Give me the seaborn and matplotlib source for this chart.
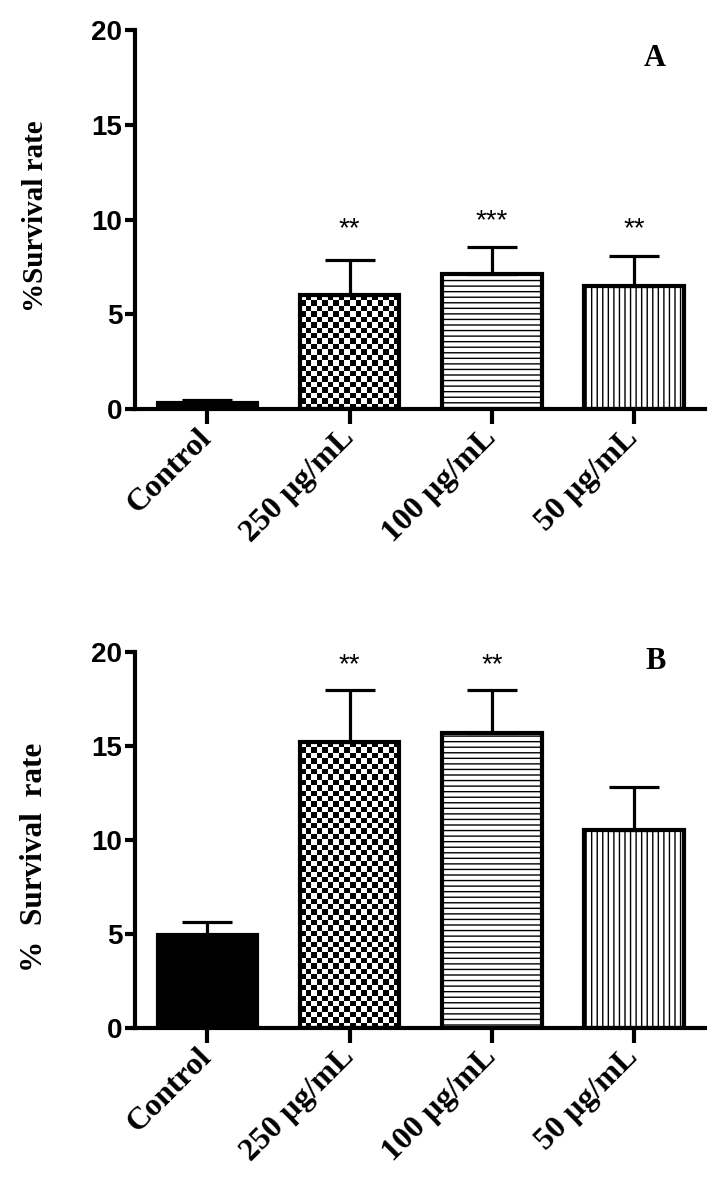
import numpy as np
import pandas as pd
import seaborn as sns
import matplotlib.pyplot as plt

groups = ["Control", "250 µg/mL", "100 µg/mL", "50 µg/mL"]

# panel A
mean_a = [0.3, 6.0, 7.1, 6.5]
err_a = [0.15, 1.85, 1.45, 1.55]
stars_a = ["", "**", "***", "**"]

# panel B
mean_b = [4.95, 15.2, 15.7, 10.55]
err_b = [0.7, 2.78, 2.28, 2.25]
stars_b = ["", "**", "**", ""]

fills = ["black", "checker", "---", "|||"]

sns.set_style("ticks", {"text.color": "black", "axes.labelcolor": "black",
                        "xtick.color": "black", "ytick.color": "black",
                        "axes.edgecolor": "black"})
serif = ["Liberation Serif", "DejaVu Serif"]
narrow = ["Liberation Sans Narrow", "Liberation Sans", "DejaVu Sans"]
plt.rcParams["hatch.linewidth"] = 1.0


def checker(ax, bar, cell=5.4):
    fig = ax.figure
    fig.canvas.draw()
    bb = bar.get_window_extent()
    nx = max(1, int(round(bb.width / cell)))
    ny = max(1, int(round(bb.height / cell)))
    ii, jj = np.indices((ny, nx))
    img = ((ii + jj) % 2).astype(float)
    x0, y0 = bar.get_x(), bar.get_y()
    im = ax.imshow(img, cmap="gray_r", extent=(x0, x0 + bar.get_width(), y0, y0 + bar.get_height()),
                   origin="lower", aspect="auto", interpolation="nearest", zorder=0.5)
    im.set_clip_path(bar)


def panel(ax, means, errs, stars, ylabel, ylab_size, ylab_pos, letter, star_y, letter_y):
    df = pd.DataFrame({"group": groups, "value": means})
    sns.barplot(data=df, x="group", y="value", order=groups, color="white",
                width=0.7, edgecolor="black", linewidth=3, ax=ax, errorbar=None)
    ax.set_xlim(-0.51, 3.5)
    ax.set_ylim(0, 20)
    for bar, f in zip(ax.patches, fills):
        if f == "black":
            bar.set_facecolor("black")
        elif f == "checker":
            bar.set_facecolor("none")
            checker(ax, bar)
        else:
            bar.set_hatch(f)
    x = np.arange(len(groups))
    ax.errorbar(x, means, yerr=[np.zeros(len(errs)), errs], fmt="none",
                ecolor="black", elinewidth=2.3, capsize=18, capthick=2.3, zorder=3)
    for xi, s in zip(x, stars):
        if s:
            ax.text(xi, star_y[xi], s, ha="center", va="center", fontsize=20,
                    family=["Liberation Sans", "DejaVu Sans"])
    ax.text(3.15, letter_y, letter, ha="center", va="center",
            fontsize=22, fontweight="bold", family=serif)

    ax.set_yticks([0, 5, 10, 15, 20])
    ax.set_xlabel("")
    ax.set_ylabel(ylabel, fontsize=ylab_size, fontweight="bold", family=serif)
    ax.yaxis.set_label_coords(-0.15, ylab_pos)
    sns.despine(ax=ax)
    for sp in ["left", "bottom"]:
        ax.spines[sp].set_linewidth(3)
    ax.tick_params(axis="y", width=3, length=7, labelsize=20, pad=2)
    ax.tick_params(axis="x", width=3, length=11, pad=7)
    for t in ax.get_yticklabels():
        t.set_family(narrow)
        t.set_fontweight("bold")
    ax.set_xticks(x)
    ax.set_xticklabels(groups, rotation=45, ha="right", va="center",
                       rotation_mode="anchor", fontsize=23, fontweight="bold", family=serif)


fig = plt.figure(figsize=(7.23, 11.88), dpi=100)
ax_a = fig.add_axes([135 / 723, 1 - 409 / 1188, 570 / 723, 379 / 1188])
ax_b = fig.add_axes([135 / 723, 1 - 1028 / 1188, 570 / 723, 376 / 1188])

panel(ax_a, mean_a, err_a, stars_a, "%Survival rate", 21, 0.51, "A", [0, 9.5, 9.9, 9.5], 18.5)
panel(ax_b, mean_b, err_b, stars_b, "%  Survival  rate", 22.5, 0.455, "B", [0, 19.3, 19.3, 0], 19.5)

fig.savefig("out.png", dpi=100)
